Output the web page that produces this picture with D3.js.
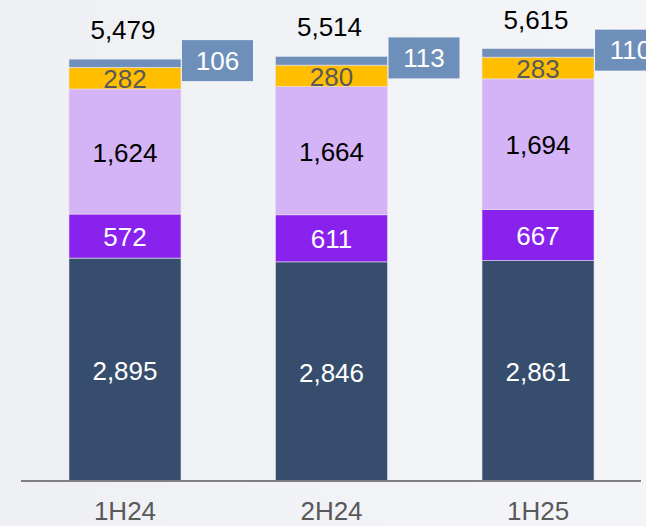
<!DOCTYPE html>
<html>
<head>
<meta charset="utf-8">
<script src="https://cdn.jsdelivr.net/npm/d3@7"></script>
<style>
body { margin: 0; background: #f1f2f6; }
svg { display: block; font-family: "Liberation Sans", Arial, sans-serif; }
</style>
</head>
<body>
<script>
var w = 646;
var h = 526;

var periods = ["1H24", "2H24", "1H25"];
var navy = [2895, 2846, 2861];
var purple = [572, 611, 667];
var lavender = [1624, 1664, 1694];
var yellow = [282, 280, 283];
var steel = [106, 113, 110];
var totals = ["5,479", "5,514", "5,615"];

var keys = ["navy", "purple", "lavender", "yellow", "steel"];
var colors = ["#364d6d", "#8a22ee", "#d5b3f7", "#ffbf00", "#6e8fba"];
var textColors = ["#ffffff", "#ffffff", "#000000", "#595959", "#ffffff"];

var rows = periods.map(function(p, i) {
	return { period: p, navy: navy[i], purple: purple[i], lavender: lavender[i],
		yellow: yellow[i], steel: steel[i], total: totals[i] };
});

var svg = d3.select("body")
.append("svg")
.attr("width", w)
.attr("height", h);

// subtle background
var grad = svg.append("defs").append("linearGradient")
.attr("id", "bg").attr("x1", "0").attr("x2", "1").attr("y1", "0").attr("y2", "0");
grad.append("stop").attr("offset", "0").attr("stop-color", "#eef0f4");
grad.append("stop").attr("offset", "1").attr("stop-color", "#f4f5f8");
svg.append("rect").attr("width", w).attr("height", h).attr("fill", "url(#bg)");

var x = d3.scaleBand()
.domain(periods)
.range([0, 663])
.paddingInner(0.4576)
.paddingOuter(0.334);

var y = d3.scaleLinear()
.domain([0, 6000])
.range([481, 19]);

var stack = d3.stack().keys(keys)(rows);

var layers = svg.selectAll("g.layer")
.data(stack)
.enter()
.append("g")
.attr("class", "layer")
.attr("fill", function(d, i) { return colors[i]; });

layers.selectAll("rect")
.data(function(d) { return d; })
.enter()
.append("rect")
.attr("x", function(d) { return x(d.data.period); })
.attr("y", function(d) { return y(d[1]); })
.attr("width", x.bandwidth())
.attr("height", function(d) { return y(d[0]) - y(d[1]); })
.attr("stroke", "#e6e2f0")
.attr("stroke-width", 0.6);

// segment labels (all but the thin top one)
stack.slice(0, 4).forEach(function(layer, li) {
	svg.selectAll(null)
	.data(layer)
	.enter()
	.append("text")
	.attr("x", function(d) { return x(d.data.period) + x.bandwidth() / 2; })
	.attr("y", function(d) { return (y(d[0]) + y(d[1])) / 2 + 1; })
	.attr("dy", "0.35em")
	.attr("text-anchor", "middle")
	.attr("font-size", "26px")
	.attr("fill", textColors[li])
	.text(function(d) { return d3.format(",")(d.data[keys[li]]); });
});

// callout boxes for the top segment
var topLayer = stack[4];
var boxW = 71, boxH = 41;
var callout = svg.selectAll("g.callout")
.data(topLayer)
.enter()
.append("g")
.attr("class", "callout")
.attr("transform", function(d) {
	return "translate(" + (x(d.data.period) + x.bandwidth() + 1) + "," + (y(d[1]) - 19) + ")";
});
callout.append("rect")
.attr("width", boxW)
.attr("height", boxH)
.attr("fill", colors[4]);
callout.append("text")
.attr("x", boxW / 2)
.attr("y", boxH / 2)
.attr("dy", "0.35em")
.attr("text-anchor", "middle")
.attr("font-size", "26px")
.attr("fill", "#ffffff")
.text(function(d) { return d.data.steel; });

// totals
svg.selectAll("text.total")
.data(topLayer)
.enter()
.append("text")
.attr("class", "total")
.attr("x", function(d) { return x(d.data.period) + x.bandwidth() / 2 - 2; })
.attr("y", function(d) { return y(d[1]) - 20; })
.attr("text-anchor", "middle")
.attr("font-size", "26px")
.attr("fill", "#000000")
.text(function(d) { return d.data.total; });

// baseline
svg.append("line")
.attr("x1", 21).attr("x2", 641)
.attr("y1", y(0)).attr("y2", y(0))
.attr("stroke", "#7f7f7f")
.attr("stroke-width", 2);

// category labels
var xAxis = svg.append("g")
.attr("transform", "translate(0," + y(0) + ")")
.call(d3.axisBottom(x).tickSize(0).tickPadding(21));
xAxis.select(".domain").remove();
xAxis.selectAll("text")
.attr("font-size", "26px")
.attr("font-family", "Liberation Sans, Arial, sans-serif")
.attr("fill", "#595959");
</script>
</body>
</html>
